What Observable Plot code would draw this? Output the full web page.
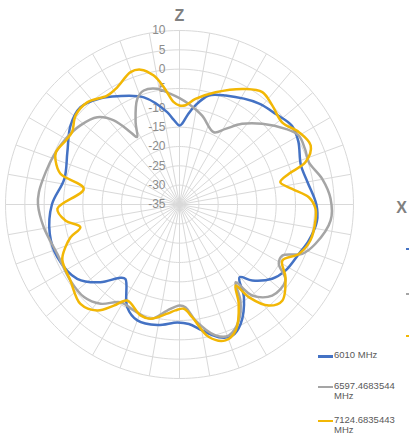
<!DOCTYPE html>
<html>
<head>
<meta charset="utf-8">
<script src="https://cdn.jsdelivr.net/npm/d3@7"></script>
<script src="https://cdn.jsdelivr.net/npm/@observablehq/plot@0.6"></script>
<style>
  html, body { margin: 0; padding: 0; background: #fff; }
  #wrap { position: relative; width: 409px; height: 439px; font-family: "Liberation Sans", Arial, sans-serif; }
  #legend { position: absolute; left: 318px; top: 350px; font-size: 9.5px; color: #595959; line-height: 10.5px; }
  .item { position: relative; padding-left: 16px; }
  .item .sw { position: absolute; left: 0; top: 5px; width: 15px; height: 2.5px; }
  .frag { position: absolute; left: 406px; width: 3px; height: 2px; }
</style>
</head>
<body>
<div id="wrap">
  <div id="chart"></div>
  <div id="legend"></div>
</div>
<script>
// Radial axis (dB) and angular grid
const radialTicks = [-35, -30, -25, -20, -15, -10, -5, 0, 5, 10];
const spokeAngles = d3.range(0, 360, 10);
const seriesNames = ["6010 MHz", "6597.4683544\nMHz", "7124.6835443\nMHz"];
const seriesColors = ["#4472C4", "#A5A5A5", "#F2B705"];
const axisLabels = ["Z", "X"];

// [angle in degrees clockwise from Z, gain dB]
const s6010 = [[0,-14.6],[2,-14.0],[5.6,-11.4],[9,-9.1],[15,-5.8],[23,-4.4],[38,-1.8],[47,-0.8],[55,0.5],[62,-0.2],[72,-2.0],[80,-1.4],[90,0.4],[97,0.8],[105.6,-0.3],[112.5,-1.6],[122,-2.7],[128.7,-4.3],[136.3,-7.8],[140.5,-10.6],[145.2,-5.8],[152.9,-0.3],[158.3,1.6],[163.5,0.8],[169.8,-1.9],[175.5,-4.0],[181,-4.5],[190.4,-3.3],[200,-3.1],[207,-5.2],[216,-11.2],[218.8,-10.7],[225.5,-6.3],[234,-2.3],[246.7,-0.6],[257.3,-0.6],[270,-2.0],[282.7,-4.5],[295,-3.0],[305.9,-0.2],[314.5,0.9],[323.4,-0.8],[330.1,-2.7],[341.6,-5.8],[352.4,-10.9],[356,-13.0]];
const s6597 = [[0,-7.5],[5.3,-8.9],[14.3,-11.3],[25.4,-14.3],[31.3,-12.1],[37.8,-8.6],[45.7,-5.1],[54.5,-1.3],[59.9,0.6],[66,0.5],[71.9,0.2],[79.8,2.5],[87.8,4.1],[96,4.3],[106.1,1.6],[111.9,-0.8],[116.4,-5.3],[120.8,-5.1],[125.6,-1.3],[134.5,-1.4],[141.4,-4.9],[144.2,-10.2],[147.6,-5.6],[152.9,-1.3],[159.4,1.2],[164.6,0.1],[172.1,-4.7],[176.7,-8.4],[180,-8.9],[186.6,-7.4],[194.2,-4.5],[203.3,-5.2],[211.1,-5.5],[218.5,-2.2],[225.9,-0.6],[235.1,-0.6],[248,-0.9],[260.5,0.6],[270,1.6],[275,1.5],[283.6,0.6],[291.3,-0.1],[300,-1.0],[308.6,-2.2],[316.7,-4.0],[322,-7.4],[325.9,-12.4],[327.8,-14.4],[331.9,-10.9],[338.2,-5.6],[342.6,-4.1],[349.1,-4.5],[355.4,-6.3]];
const s7124 = [[0,-9.4],[3.5,-9.3],[8.6,-7.4],[17.8,-4.5],[29.7,-0.6],[36.4,1.1],[43.1,0.1],[51.3,-1.0],[58.8,1.1],[65.8,2.2],[71.4,-0.6],[74.3,-5.6],[77.5,-8.3],[82.1,-5.6],[86.8,-1.5],[91.8,0.2],[96.7,0.4],[105.4,0.1],[112.5,-1.6],[118.6,-4.7],[124.4,-1.8],[133.1,1.4],[138.5,-0.1],[143.2,-5.1],[145.3,-9.5],[149.2,-5.1],[156,0.7],[161.3,2.1],[167.5,0.1],[173.6,-5.7],[177.6,-8.0],[182.2,-7.6],[186.4,-6.6],[194.2,-4.5],[199.4,-4.6],[208.6,-6.7],[213,-3.8],[217.8,-0.3],[224.9,1.3],[235.1,-0.6],[244.8,-1.5],[249.5,-3.5],[253.3,-5.6],[257.1,-8.7],[262,-5.2],[268,-3.4],[279.3,-9.9],[284.5,-3.2],[289.5,-1.0],[293,-0.3],[299.7,-1.3],[304,-1.5],[310.6,0.4],[317.9,0.6],[326.4,-1.2],[332,-0.7],[339.7,1.5],[343.9,1.3],[348.7,-1.0],[352.4,-4.4],[356.8,-8.5]];

const rMin = radialTicks[0];
const rMax = radialTicks[radialTicks.length - 1];
const R = rMax - rMin;
const rad = a => a * Math.PI / 180;
const toXY = (a, v) => ({x: (v - rMin) * Math.sin(rad(a)), y: (v - rMin) * Math.cos(rad(a))});

const series = [s6010, s6597, s7124];
const lineData = series.flatMap((s, i) => s.map(([a, v]) => ({...toXY(a, v), k: i})));

const rings = radialTicks.slice(1).flatMap(t => d3.range(0, 361, 2).map(a => ({...toXY(a, t), t})));
const spokes = spokeAngles.map(a => ({a, ...toXY(a, rMax)}));

const plot = Plot.plot({
  width: 409,
  height: 439,
  marginTop: 0, marginLeft: 0, marginBottom: 0, marginRight: 8,
  style: {fontFamily: '"Liberation Sans", Arial, sans-serif', background: "transparent"},
  x: {domain: [-R, R], range: [5, 353], axis: null},
  y: {domain: [-R, R], range: [378, 30], axis: null},
  marks: [
    Plot.line(rings, {x: "x", y: "y", z: "t", stroke: "#d9d9d9", strokeWidth: 1}),
    Plot.link(spokes, {x1: 0, y1: 0, x2: "x", y2: "y", stroke: "#d9d9d9", strokeWidth: 1}),
    Plot.text(radialTicks, {x: 0, y: d => d - rMin, text: d => String(d), textAnchor: "end", dx: -14, fill: "#8c8c8c", fontSize: 12}),
    Plot.line(lineData, {x: "x", y: "y", z: "k", stroke: d => seriesColors[d.k], strokeWidth: 2.5, curve: "catmull-rom-closed"}),
    Plot.text([axisLabels[0]], {x: 0, y: R, dy: -15, text: d => d, fontSize: 16, fontWeight: "bold", fill: "#808080"}),
    Plot.text([axisLabels[1]], {y: 0, frameAnchor: "right", dy: 3, textAnchor: "middle", text: d => d, fontSize: 16, fontWeight: "bold", fill: "#808080"})
  ]
});
document.getElementById("chart").appendChild(plot);

const legend = document.getElementById("legend");
const gaps = [0, 20, 13];
seriesNames.forEach((name, i) => {
  const item = document.createElement("div");
  item.className = "item";
  item.style.marginTop = gaps[i] + "px";
  const sw = document.createElement("span");
  sw.className = "sw";
  sw.style.background = seriesColors[i];
  item.appendChild(sw);
  name.split("\n").forEach(line => {
    const d = document.createElement("div");
    d.textContent = line;
    item.appendChild(d);
  });
  legend.appendChild(item);
});
// clipped fragments of a second legend at the right edge
[248, 293, 335].forEach((top, i) => {
  const f = document.createElement("div");
  f.className = "frag";
  f.style.top = top + "px";
  f.style.background = seriesColors[i];
  document.getElementById("wrap").appendChild(f);
});
</script>
</body>
</html>
